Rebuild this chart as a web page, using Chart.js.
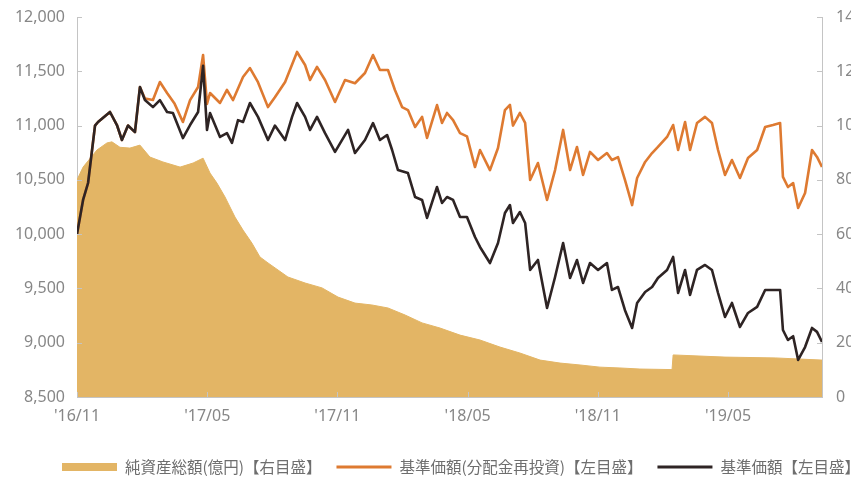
<!DOCTYPE html>
<html lang="ja">
  <head>
    <meta charset="UTF-8" />
    <title>基準価額・純資産総額の推移</title>
    <script src="https://cdn.jsdelivr.net/npm/chart.js"></script>
    <style>
      html,
      body {
        margin: 0;
        padding: 0;
        background: #fff;
        overflow: hidden;
      }

      .chart-wrap {
        position: relative;
        width: 880px;
        height: 482px;
      }
    </style>
  </head>
  <body>
    <div class="chart-wrap"><canvas id="navChart"></canvas></div>

    <script>
      // x = months since 2016/11
      const tickMonths = [0, 6, 12, 18, 24, 30];
      const tickLabels = ["'16/11", "'17/05", "'17/11", "'18/05", "'18/11", "'19/05"];
      const xMax = 34.33;

      // 基準価額【左目盛】
      const priceMonths = [0, 0.28, 0.51, 0.83, 0.97, 1.52, 1.84, 2.07, 2.35, 2.67, 2.9, 3.13, 3.5, 3.82, 4.15, 4.42, 4.88, 5.21, 5.58, 5.81, 5.99, 6.13, 6.59, 6.91, 7.14, 7.42, 7.65, 7.97, 8.34, 8.8, 9.12, 9.59, 9.91, 10.14, 10.51, 10.74, 11.06, 11.43, 11.89, 12.49, 12.81, 13.27, 13.64, 13.96, 14.29, 14.52, 14.79, 15.25, 15.58, 15.9, 16.13, 16.59, 16.82, 17.05, 17.33, 17.65, 17.97, 18.34, 18.57, 19.03, 19.4, 19.72, 19.95, 20.09, 20.41, 20.65, 20.88, 21.24, 21.66, 22.03, 22.4, 22.72, 23.04, 23.32, 23.64, 24.01, 24.42, 24.65, 24.93, 25.25, 25.58, 25.81, 26.18, 26.5, 26.77, 27.19, 27.47, 27.7, 28.02, 28.25, 28.57, 28.94, 29.26, 29.54, 29.86, 30.18, 30.55, 30.92, 31.34, 31.71, 32.07, 32.4, 32.53, 32.76, 33.0, 33.23, 33.55, 33.87, 34.1, 34.33];
      const priceValues = [10000, 10315, 10471, 11000, 11033, 11125, 11005, 10867, 11000, 10940, 11355, 11235, 11170, 11235, 11125, 11115, 10885, 11005, 11125, 11550, 10960, 11115, 10895, 10930, 10840, 11050, 11033, 11208, 11080, 10867, 11000, 10867, 11080, 11208, 11080, 10960, 11080, 10930, 10757, 10960, 10747, 10867, 11023, 10867, 10913, 10775, 10590, 10563, 10342, 10315, 10149, 10434, 10287, 10342, 10315, 10158, 10158, 9974, 9882, 9734, 9918, 10195, 10268, 10103, 10204, 10103, 9670, 9762, 9320, 9605, 9918, 9596, 9762, 9550, 9734, 9670, 9734, 9486, 9513, 9300, 9136, 9366, 9467, 9513, 9596, 9670, 9790, 9458, 9670, 9440, 9670, 9716, 9670, 9458, 9237, 9366, 9145, 9274, 9330, 9486, 9486, 9486, 9117, 9025, 9060, 8841, 8960, 9136, 9100, 9007];

      // 基準価額(分配金再投資)【左目盛】
      const reinvMonths = [0, 0.28, 0.51, 0.83, 0.97, 1.52, 1.84, 2.07, 2.35, 2.67, 2.9, 3.13, 3.5, 3.82, 4.15, 4.5, 4.88, 5.21, 5.58, 5.81, 5.99, 6.13, 6.59, 6.91, 7.19, 7.65, 7.97, 8.34, 8.8, 9.12, 9.59, 10.14, 10.51, 10.74, 11.06, 11.43, 11.89, 12.35, 12.81, 13.27, 13.64, 13.96, 14.33, 14.65, 14.98, 15.25, 15.58, 15.9, 16.13, 16.59, 16.82, 17.05, 17.33, 17.65, 17.97, 18.34, 18.57, 19.03, 19.4, 19.72, 19.95, 20.09, 20.41, 20.65, 20.88, 21.24, 21.66, 22.03, 22.4, 22.72, 23.04, 23.32, 23.64, 24.01, 24.42, 24.65, 24.93, 25.25, 25.58, 25.81, 26.18, 26.5, 26.77, 27.19, 27.47, 27.7, 28.02, 28.25, 28.57, 28.94, 29.26, 29.54, 29.86, 30.18, 30.55, 30.92, 31.34, 31.71, 32.07, 32.4, 32.53, 32.76, 33.0, 33.23, 33.55, 33.87, 34.1, 34.33];
      const reinvValues = [10000, 10315, 10471, 11000, 11033, 11125, 11005, 10867, 11000, 10940, 11355, 11250, 11235, 11401, 11300, 11200, 11033, 11235, 11355, 11650, 11200, 11300, 11208, 11328, 11235, 11447, 11530, 11400, 11170, 11260, 11401, 11678, 11558, 11420, 11540, 11420, 11217, 11420, 11390, 11484, 11650, 11512, 11512, 11328, 11170, 11143, 10987, 11080, 10886, 11189, 11024, 11116, 11051, 10931, 10900, 10618, 10775, 10590, 10794, 11143, 11190, 11000, 11116, 11024, 10499, 10655, 10315, 10590, 10960, 10590, 10803, 10545, 10757, 10683, 10747, 10683, 10710, 10499, 10268, 10517, 10665, 10747, 10803, 10895, 11005, 10775, 11033, 10775, 11024, 11080, 11024, 10775, 10545, 10683, 10517, 10701, 10775, 10987, 11005, 11024, 10527, 10434, 10470, 10241, 10379, 10775, 10711, 10618];

      // 純資産総額(億円)【右目盛】
      const assetMonths = [0, 0.28, 0.92, 1.38, 1.61, 1.98, 2.44, 2.9, 3.36, 3.96, 4.75, 5.35, 5.81, 6.13, 6.45, 6.82, 7.28, 7.65, 8.06, 8.43, 8.8, 9.72, 10.51, 11.29, 12.03, 12.81, 13.59, 14.33, 15.12, 15.9, 16.73, 17.65, 18.57, 19.49, 20.41, 21.34, 22.26, 23.18, 24.1, 25.02, 25.94, 27.42, 27.47, 29.86, 32.17, 34.33];
      const assetValues = [80, 84.7, 91, 93.6, 94, 92, 91.7, 92.8, 88.4, 86.6, 84.7, 86.2, 88, 82.5, 78.8, 73.7, 66.3, 61.5, 56.7, 51.6, 49.4, 44.2, 42, 40.2, 36.8, 34.6, 33.9, 32.8, 30.2, 27.3, 25.4, 22.8, 21, 18.4, 16.2, 13.6, 12.5, 11.8, 11, 10.7, 10.3, 10.1, 15.5, 14.7, 14.4, 13.6];

      const toPoints = (xs, ys) => xs.map((x, i) => ({ x: x, y: ys[i] }));

      const axisColor = "#c4c4c4";
      const labelColor = "#878787";
      const labelFont = { family: "'Noto Sans', sans-serif", size: 16 };

      // small tick marks pointing into the plot
      const innerTicks = {
        id: "innerTicks",
        afterDraw(chart) {
          const { ctx, chartArea: a, scales } = chart;
          ctx.save();
          ctx.strokeStyle = axisColor;
          ctx.lineWidth = 1;
          ctx.beginPath();
          scales.y.ticks.forEach((t) => {
            const y = Math.round(scales.y.getPixelForValue(t.value)) + 0.5;
            ctx.moveTo(a.left, y);
            ctx.lineTo(a.left + 5, y);
          });
          scales.y2.ticks.forEach((t) => {
            const y = Math.round(scales.y2.getPixelForValue(t.value)) + 0.5;
            ctx.moveTo(a.right, y);
            ctx.lineTo(a.right - 5, y);
          });
          scales.x.ticks.forEach((t) => {
            const x = Math.round(scales.x.getPixelForValue(t.value)) + 0.5;
            ctx.moveTo(x, a.bottom);
            ctx.lineTo(x, a.bottom - 5);
          });
          ctx.stroke();
          ctx.restore();
        },
      };

      // legend row under the chart
      const bottomLegend = {
        id: "bottomLegend",
        afterDraw(chart) {
          const ctx = chart.ctx;
          const order = [2, 1, 0];
          let x = 62;
          const y = 467;
          ctx.save();
          ctx.font = "15.5px 'Noto Sans CJK JP', sans-serif";
          ctx.textBaseline = "middle";
          order.forEach((i) => {
            const ds = chart.data.datasets[i];
            const h = ds.fill ? 8 : 3;
            ctx.fillStyle = ds.fill ? ds.backgroundColor : ds.borderColor;
            ctx.fillRect(x, y - h / 2, 55, h);
            x += 63;
            ctx.fillStyle = "#6e6e6e";
            ctx.fillText(ds.label, x, y);
            x += ctx.measureText(ds.label).width + 15;
          });
          ctx.restore();
        },
      };

      const ctx = document.getElementById("navChart").getContext("2d");
      const navChart = new Chart(ctx, {
        type: "line",
        data: {
          datasets: [
            {
              label: "基準価額【左目盛】",
              data: toPoints(priceMonths, priceValues),
              borderColor: "#2e2424",
              borderWidth: 2.6,
              yAxisID: "y",
              order: 1,
            },
            {
              label: "基準価額(分配金再投資)【左目盛】",
              data: toPoints(reinvMonths, reinvValues),
              borderColor: "#de7a31",
              borderWidth: 2.6,
              yAxisID: "y",
              order: 2,
            },
            {
              label: "純資産総額(億円)【右目盛】",
              data: toPoints(assetMonths, assetValues),
              borderColor: "#e3b565",
              backgroundColor: "#e3b565",
              borderWidth: 1,
              fill: "origin",
              yAxisID: "y2",
              order: 3,
            },
          ],
        },
        options: {
          responsive: true,
          maintainAspectRatio: false,
          animation: false,
          elements: {
            point: { radius: 0 },
            line: { tension: 0, borderJoinStyle: "round" },
          },
          layout: { padding: { left: 0, right: 0, top: 17, bottom: 48 } },
          plugins: {
            legend: { display: false },
            tooltip: { enabled: false },
          },
          scales: {
            x: {
              type: "linear",
              min: 0,
              max: xMax,
              grid: { display: false },
              border: { display: true, color: axisColor },
              afterBuildTicks: (scale) => {
                scale.ticks = tickMonths.map((v) => ({ value: v }));
              },
              afterFit: (scale) => {
                scale.height = 37;
              },
              ticks: {
                autoSkip: false,
                maxRotation: 0,
                padding: 2,
                color: labelColor,
                font: labelFont,
                callback: (v) => tickLabels[tickMonths.indexOf(v)],
              },
            },
            y: {
              position: "left",
              min: 8500,
              max: 12000,
              grid: { display: false },
              border: { display: true, color: axisColor },
              afterFit: (scale) => {
                scale.width = 77;
              },
              ticks: {
                stepSize: 500,
                padding: 4,
                color: labelColor,
                font: labelFont,
                callback: (v) => v.toLocaleString("en-US"),
              },
            },
            y2: {
              position: "right",
              min: 0,
              max: 140,
              grid: { display: false },
              border: { display: true, color: axisColor },
              afterFit: (scale) => {
                scale.width = 58;
              },
              ticks: {
                stepSize: 20,
                padding: 6,
                color: labelColor,
                font: labelFont,
              },
            },
          },
        },
        plugins: [innerTicks, bottomLegend],
      });
    </script>
  </body>
</html>
